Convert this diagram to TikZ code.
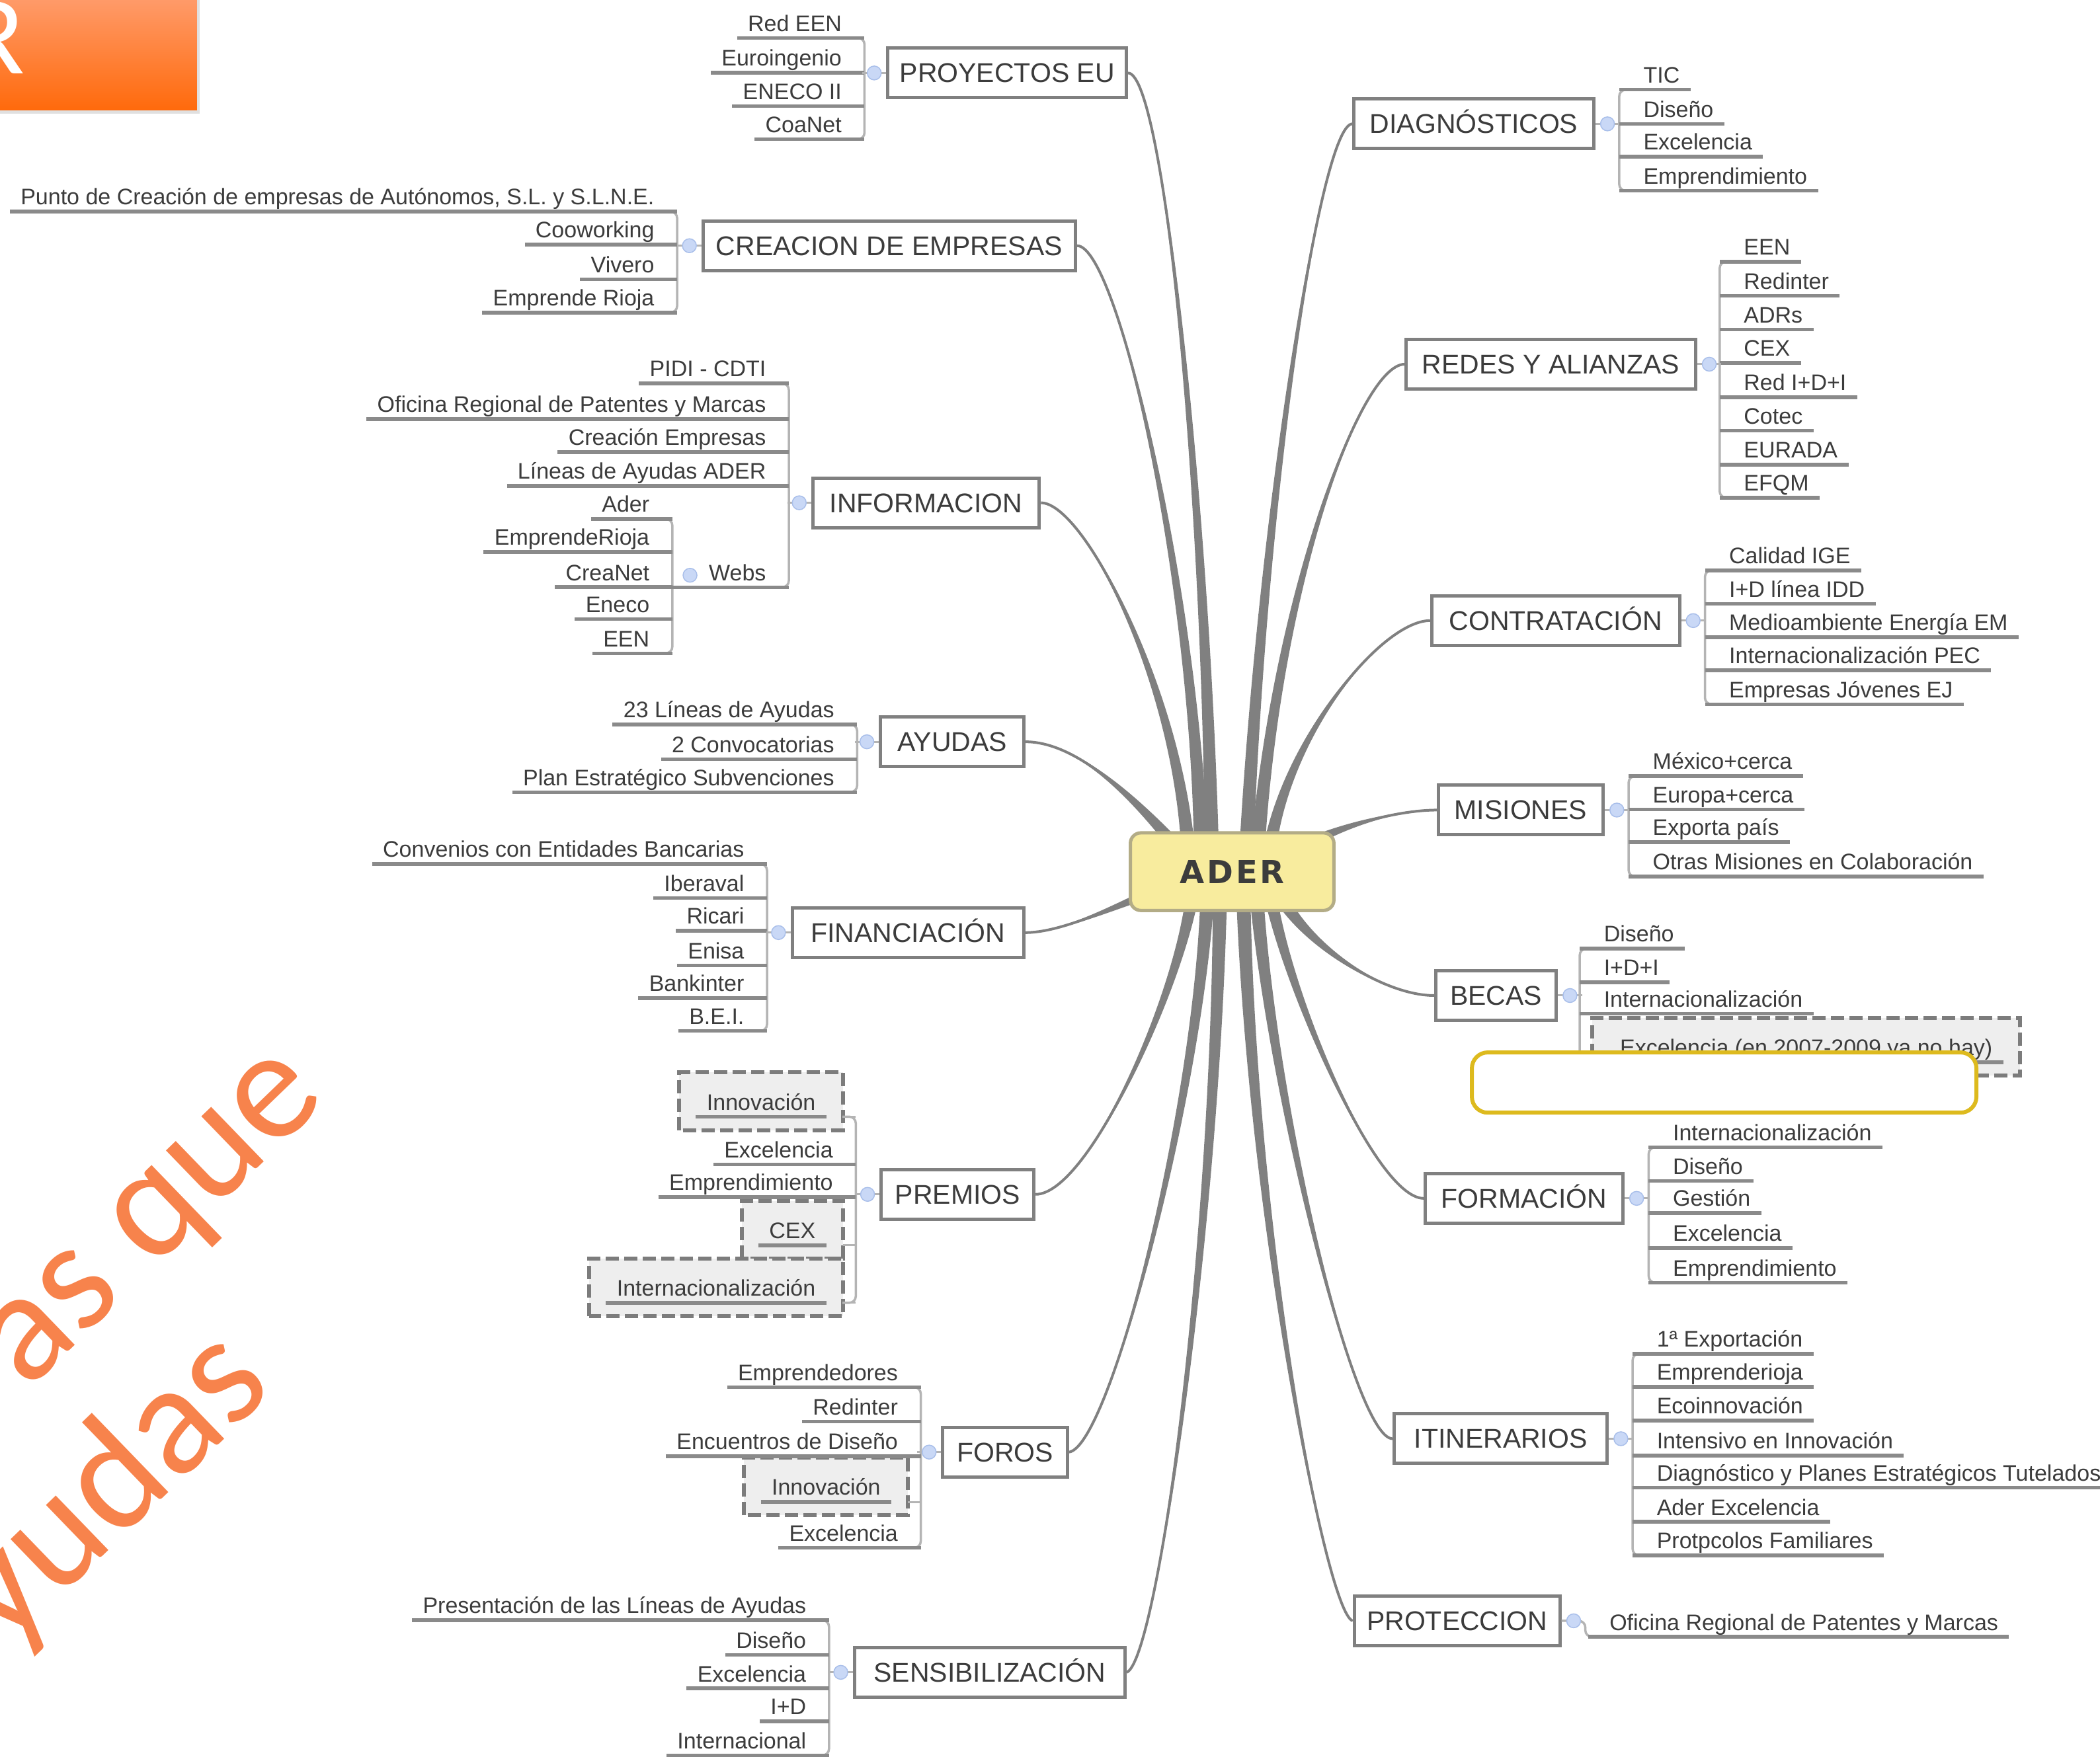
\documentclass[tikz,border=0pt]{standalone}
\usepackage{fontspec}
\setmainfont{Liberation Sans}
\newfontfamily\carl{Carlito}
\newfontfamily\aderfont[LetterSpace=8]{DejaVu Sans}
\usetikzlibrary{calc}
\pgfdeclarelayer{bg}
\pgfdeclarelayer{mid}
\pgfsetlayers{bg,mid,main}
\definecolor{cgray}{HTML}{808080}
\definecolor{ulcol}{HTML}{8A8A8A}
\definecolor{brcol}{HTML}{B4B4B4}
\definecolor{txt}{HTML}{3C3C3C}
\definecolor{knobc}{HTML}{C9D8F6}
\definecolor{knobd}{HTML}{A9BFEA}
\definecolor{aderfill}{HTML}{F8EC9E}
\definecolor{aderdraw}{HTML}{B3AC86}
\definecolor{dfill}{HTML}{EEEEEE}
\definecolor{ddraw}{HTML}{7C7C7C}
\definecolor{yel}{HTML}{DDBA1E}
\definecolor{orgA}{HTML}{FF9D6E}
\definecolor{orgB}{HTML}{FF6A0C}
\definecolor{orgT}{HTML}{F7834C}
\tikzset{
 mainbox/.style={draw=cgray, line width=5pt, fill=white, font=\fontsize{41}{48}\selectfont, text=txt, minimum height=75pt, text height=29pt, text depth=0pt, inner xsep=0pt, inner ysep=0pt},
 mw/.style={minimum width=#1*2.0255pt},
 leaf/.style={font=\fontsize{34}{40}\selectfont, text=txt, inner xsep=16.2pt, inner ysep=0pt, text height=26pt, text depth=10pt},
 uline/.style={draw=ulcol, line width=5.5pt},
 bracket/.style={draw=brcol, line width=3.5pt, rounded corners=10pt},
 kline/.style={draw=brcol, line width=3pt},
 knob/.style={circle, fill=knobc, draw=knobd, line width=1.5pt, minimum size=21pt, inner sep=0pt},
 dbox/.style={draw=ddraw, fill=dfill, line width=6pt, dash pattern=on 20pt off 8pt},
 conn/.style={fill=cgray},
 connline/.style={draw=cgray, line width=4pt},
}
% tapered connector: #1 start, #2 control 1, #3 control 2, #4 end, #5 half-width offset at the start
\newcommand{\tconn}[5]{%
  \fill[conn] ($(#1)+(#5)$) .. controls ($(#2)+0.5*(#5)$) and (#3) .. (#4) .. controls (#3) and ($(#2)-0.5*(#5)$) .. ($(#1)-(#5)$) -- cycle;
  \draw[connline] (#1) .. controls (#2) and (#3) .. (#4);}
\newcommand{\brL}[3]{\draw[bracket] (#1-10,#2) -- (#1,#2) -- (#1,#3) -- (#1-10,#3);}
\newcommand{\brR}[3]{\draw[bracket] (#1+10,#2) -- (#1,#2) -- (#1,#3) -- (#1+10,#3);}
\newcommand{\leavesL}[3]{\foreach \yy/\lbl [count=\ii] in {#3}{%
  \node[leaf, anchor=south east] (#2\ii) at (#1-9,\yy) {\lbl};
  \draw[uline] (#2\ii.south west) -- ($(#2\ii.south east)+(9,0)$);}}
\newcommand{\leavesR}[3]{\foreach \yy/\lbl [count=\ii] in {#3}{%
  \node[leaf, anchor=south west] (#2\ii) at (#1+10,\yy) {\lbl};
  \draw[uline] ($(#2\ii.south west)+(-10,0)$) -- (#2\ii.south east);}}
\newcommand{\boxleafL}[4]{%
  \node[leaf, anchor=south east] (#2) at (#1-22,#3) {#4};
  \begin{pgfonlayer}{mid}\draw[dbox] ($(#2.south west)+(-12.5,10)$) rectangle ($(#2.south east)+(12.5,-33)$);\end{pgfonlayer}
  \draw[uline] (#2.south west) -- (#2.south east);
  \draw[kline] ($(#2.south east)+(12.5,0)$) -- (#1,#3);}
\newcommand{\boxleafR}[4]{%
  \node[leaf, anchor=south west] (#2) at (#1+22,#3) {#4};
  \begin{pgfonlayer}{mid}\draw[dbox] ($(#2.south west)+(-12.5,10)$) rectangle ($(#2.south east)+(12.5,-33)$);\end{pgfonlayer}
  \draw[uline] (#2.south west) -- (#2.south east);
  \draw[kline] (#1,#3) -- ($(#2.south west)+(-12.5,0)$);}
\newcommand{\knobL}[2]{\draw[kline] (#1.west) -- ++(-18,0); \node[knob] (#2) at ($(#1.west)+(-9,0)$) {};}
\newcommand{\knobR}[2]{\draw[kline] (#1.east) -- ++(18,0); \node[knob] (#2) at ($(#1.east)+(9,0)$) {};}
\begin{document}
\begin{tikzpicture}[x=2.0255pt, y=-2.0255pt]
\useasboundingbox (0,0) rectangle (1568,1315);
\begin{pgfonlayer}{bg}
\fill[white] (0,0) rectangle (1568,1315);
\end{pgfonlayer}

% orange title box and rotated text
\fill[black!12] (-5,-5) rectangle (149,85);
\shade[top color=orgA, bottom color=orgB] (-5,-5) rectangle (147,82);
\node[text=white, font=\carl\fontsize{170}{170}\selectfont, anchor=base east, inner sep=0pt] (rr) at (19,55) {R};
\node[text=orgT, font=\carl\fontsize{240}{240}\selectfont, rotate=44, anchor=base, inner sep=0pt] (t1) at (133,930) {as  que};
\node[text=orgT, font=\carl\fontsize{240}{240}\selectfont, rotate=44, anchor=base, inner sep=0pt] (t2) at (105,1135) {yudas};

% central node
\node[draw=aderdraw, fill=aderfill, line width=5pt, rounded corners=16pt, minimum width=152*2.0255pt, minimum height=58*2.0255pt, font=\aderfont\bfseries\fontsize{48}{56}\selectfont, text=txt, inner sep=0pt] (ader) at (920,651) {ADER};

% main nodes
\node[mainbox, mw=178] (proy) at (752,54.5) {PROYECTOS EU};
\node[mainbox, mw=278] (crea) at (664,183.5) {CREACION DE EMPRESAS};
\node[mainbox, mw=169] (info) at (691.5,375.5) {INFORMACION};
\node[mainbox, mw=107] (ayu) at (711,554) {AYUDAS};
\node[mainbox, mw=173] (fin) at (678,696.5) {FINANCIACIÓN};
\node[mainbox, mw=114] (prem) at (715,892) {PREMIOS};
\node[mainbox, mw=93] (foros) at (750.5,1084.5) {FOROS};
\node[mainbox, mw=202] (sens) at (739,1249) {SENSIBILIZACIÓN};
\node[mainbox, mw=179] (diag) at (1100.5,92.5) {DIAGNÓSTICOS};
\node[mainbox, mw=216] (redes) at (1158,272) {REDES Y ALIANZAS};
\node[mainbox, mw=185] (contr) at (1161.5,463.5) {CONTRATACIÓN};
\node[mainbox, mw=123] (mis) at (1135.5,605) {MISIONES};
\node[mainbox, mw=90] (becas) at (1117,743.5) {BECAS};
\node[mainbox, mw=147.5] (form) at (1138,895) {FORMACIÓN};
\node[mainbox, mw=159] (itin) at (1120.5,1074.5) {ITINERARIOS};
\node[mainbox, mw=153.5] (prot) at (1088,1210.5) {PROTECCION};

% tapered connectors
\begin{pgfonlayer}{bg}
\tconn{$(ader.center)+(-15,0)$}{902,400}{870,54.5}{proy.east}{5.5,0}
\tconn{$(ader.center)+(-23,0)$}{895,450}{835,183.5}{crea.east}{5.5,0}
\tconn{$(ader.center)+(-32,0)$}{884,520}{810,375.5}{info.east}{5.5,0}
\tconn{$(ader.center)+(-30,-5)$}{860,610}{810,554}{ayu.east}{4.7,-3.7}
\tconn{$(ader.center)+(-30,5)$}{855,665}{800,696.5}{fin.east}{0.9,6}
\tconn{$(ader.center)+(-28,0)$}{890,720}{815,892}{prem.east}{5.5,0}
\tconn{$(ader.center)+(-18,0)$}{900,800}{830,1080}{foros.east}{5.5,0}
\tconn{$(ader.center)+(-9,0)$}{910,900}{865,1240}{sens.east}{5.5,0}
\tconn{$(ader.center)+(10,0)$}{940,400}{985,92.5}{diag.west}{5.5,0}
\tconn{$(ader.center)+(18,0)$}{950,450}{1015,272}{redes.west}{5.5,0}
\tconn{$(ader.center)+(26,0)$}{952,560}{1030,463.5}{contr.west}{5.5,0}
\tconn{$(ader.center)+(30,-5)$}{985,620}{1040,605}{mis.west}{2.7,5.3}
\tconn{$(ader.center)+(30,5)$}{965,700}{1030,743.5}{becas.west}{4.7,-3.8}
\tconn{$(ader.center)+(26,0)$}{952,720}{1025,895}{form.west}{5.5,0}
\tconn{$(ader.center)+(17,0)$}{945,800}{1010,1074.5}{itin.west}{5.5,0}
\tconn{$(ader.center)+(8,0)$}{932,900}{990,1205}{prot.west}{5.5,0}
\end{pgfonlayer}

% ---- left groups
% PROYECTOS EU
\brL{645.5}{28.3}{104}
\leavesL{645.5}{pe}{28.3/Red EEN, 54.3/Euroingenio, 79.3/ENECO II, 104/CoaNet}
\knobL{proy}{kpe}
% CREACION
\brL{505.6}{158}{233.4}
\leavesL{505.6}{ce}{158/{Punto de Creación de empresas de Autónomos, S.L. y S.L.N.E.}, 182.7/Cooworking, 208.7/Vivero, 233.4/Emprende Rioja}
\knobL{crea}{kce}
% INFORMACION
\brL{589}{286.3}{438.6}
\leavesL{589}{in}{286.3/PIDI - CDTI, 313/Oficina Regional de Patentes y Marcas, 337.7/Creación Empresas, 362.9/Líneas de Ayudas ADER}
\node[leaf, anchor=south east] (webs) at (580,438.6) {Webs};
\coordinate (wsb) at (502,438.6);
\brL{502}{387.5}{487.9}
\draw[uline] (wsb) -- ($(webs.south east)+(9,0)$);
\leavesL{502}{wb}{387.5/Ader, 412.3/EmprendeRioja, 438.5/CreaNet, 462.4/Eneco, 487.9/EEN}
\node[knob] (kwebs) at ($(webs.west)+(-6,0)$) {};
\knobL{info}{kin}
% AYUDAS
\brL{640}{541}{591.6}
\leavesL{640}{ay}{541/23 Líneas de Ayudas, 567/2 Convocatorias, 591.6/Plan Estratégico Subvenciones}
\knobL{ayu}{kay}
% FINANCIACION
\brL{572.7}{645.2}{770}
\leavesL{572.7}{fi}{645.2/Convenios con Entidades Bancarias, 670.6/Iberaval, 695/Ricari, 721/Enisa, 745.5/Bankinter, 770/B.E.I.}
\knobL{fin}{kfi}
% PREMIOS
\brL{639}{834}{973}
\boxleafL{639}{pr1}{834}{Innovación}
\leavesL{639}{pr}{869.6/Excelencia, 894/Emprendimiento}
\boxleafL{639}{pr4}{930}{CEX}
\boxleafL{639}{pr5}{973}{Internacionalización}
\knobL{prem}{kpr}
% FOROS
\brL{687.5}{1036}{1156}
\leavesL{687.5}{fo}{1036/Emprendedores, 1061.7/Redinter, 1087.7/Encuentros de Diseño}
\boxleafL{687.5}{fob}{1121.7}{Innovación}
\leavesL{687.5}{foe}{1156/Excelencia}
\knobL{foros}{kfo}
% SENSIBILIZACION
\brL{619}{1210}{1311}
\leavesL{619}{se}{1210/Presentación de las Líneas de Ayudas, 1236/Diseño, 1261/Excelencia, 1285.6/I+D, 1311/Internacional}
\knobL{sens}{kse}

% ---- right groups
\brR{1209}{67}{142.5}
\leavesR{1209}{dg}{67/TIC, 92.5/Diseño, 117/Excelencia, 142.5/Emprendimiento}
\knobR{diag}{kdg}
\brR{1284}{195.4}{371.8}
\leavesR{1284}{re}{195.4/EEN, 221/Redinter, 246/ADRs, 271/CEX, 296.7/Red I+D+I, 321.6/Cotec, 347/EURADA, 371.8/EFQM}
\knobR{redes}{kre}
\brR{1273}{426}{526}
\leavesR{1273}{co}{426/Calidad IGE, 451/I+D línea IDD, 476/Medioambiente Energía EM, 500.6/Internacionalización PEC, 526/Empresas Jóvenes EJ}
\knobR{contr}{kco}
\brR{1216}{579.6}{654.7}
\leavesR{1216}{mi}{579.6/México+cerca, 604.6/Europa+cerca, 629/Exporta país, 654.7/Otras Misiones en Colaboración}
\knobR{mis}{kmi}
\brR{1179.5}{708.5}{793.4}
\leavesR{1179.5}{be}{708.5/Diseño, 733.7/I+D+I, 757/Internacionalización}
\boxleafR{1179.5}{bex}{793.4}{Excelencia (en 2007-2009 ya no hay)}
\knobR{becas}{kbe}
\brR{1231}{856.8}{958}
\leavesR{1231}{fm}{856.8/Internacionalización, 882/Diseño, 906/Gestión, 932/Excelencia, 958/Emprendimiento}
\knobR{form}{kfm}
\brR{1219}{1011}{1161.7}
\leavesR{1219}{it}{1011/1ª Exportación, 1035.8/Emprenderioja, 1061/Ecoinnovación, 1087/Intensivo en Innovación, 1111/Diagnóstico y Planes Estratégicos Tutelados, 1136.6/Ader Excelencia, 1161.7/Protpcolos Familiares}
\knobR{itin}{kit}
% PROTECCION
\node[leaf, anchor=south west] (pt1) at (1193.7,1222.5) {Oficina Regional de Patentes y Marcas};
\draw[bracket] (prot.east) -- (1183.7,1210.5) -- (1183.7,1222.5) -- (1193.7,1222.5);
\draw[uline] ($(pt1.south west)+(-8,0)$) -- (pt1.south east);
\node[knob] (kpt) at ($(prot.east)+(9,0)$) {};

% empty yellow callout
\node[draw=yel, line width=6pt, fill=white, rounded corners=24pt, minimum width=376.7*2.0255pt, minimum height=45*2.0255pt, inner sep=0pt] (ybox) at (1287.35,808.5) {};
\end{tikzpicture}
\end{document}
